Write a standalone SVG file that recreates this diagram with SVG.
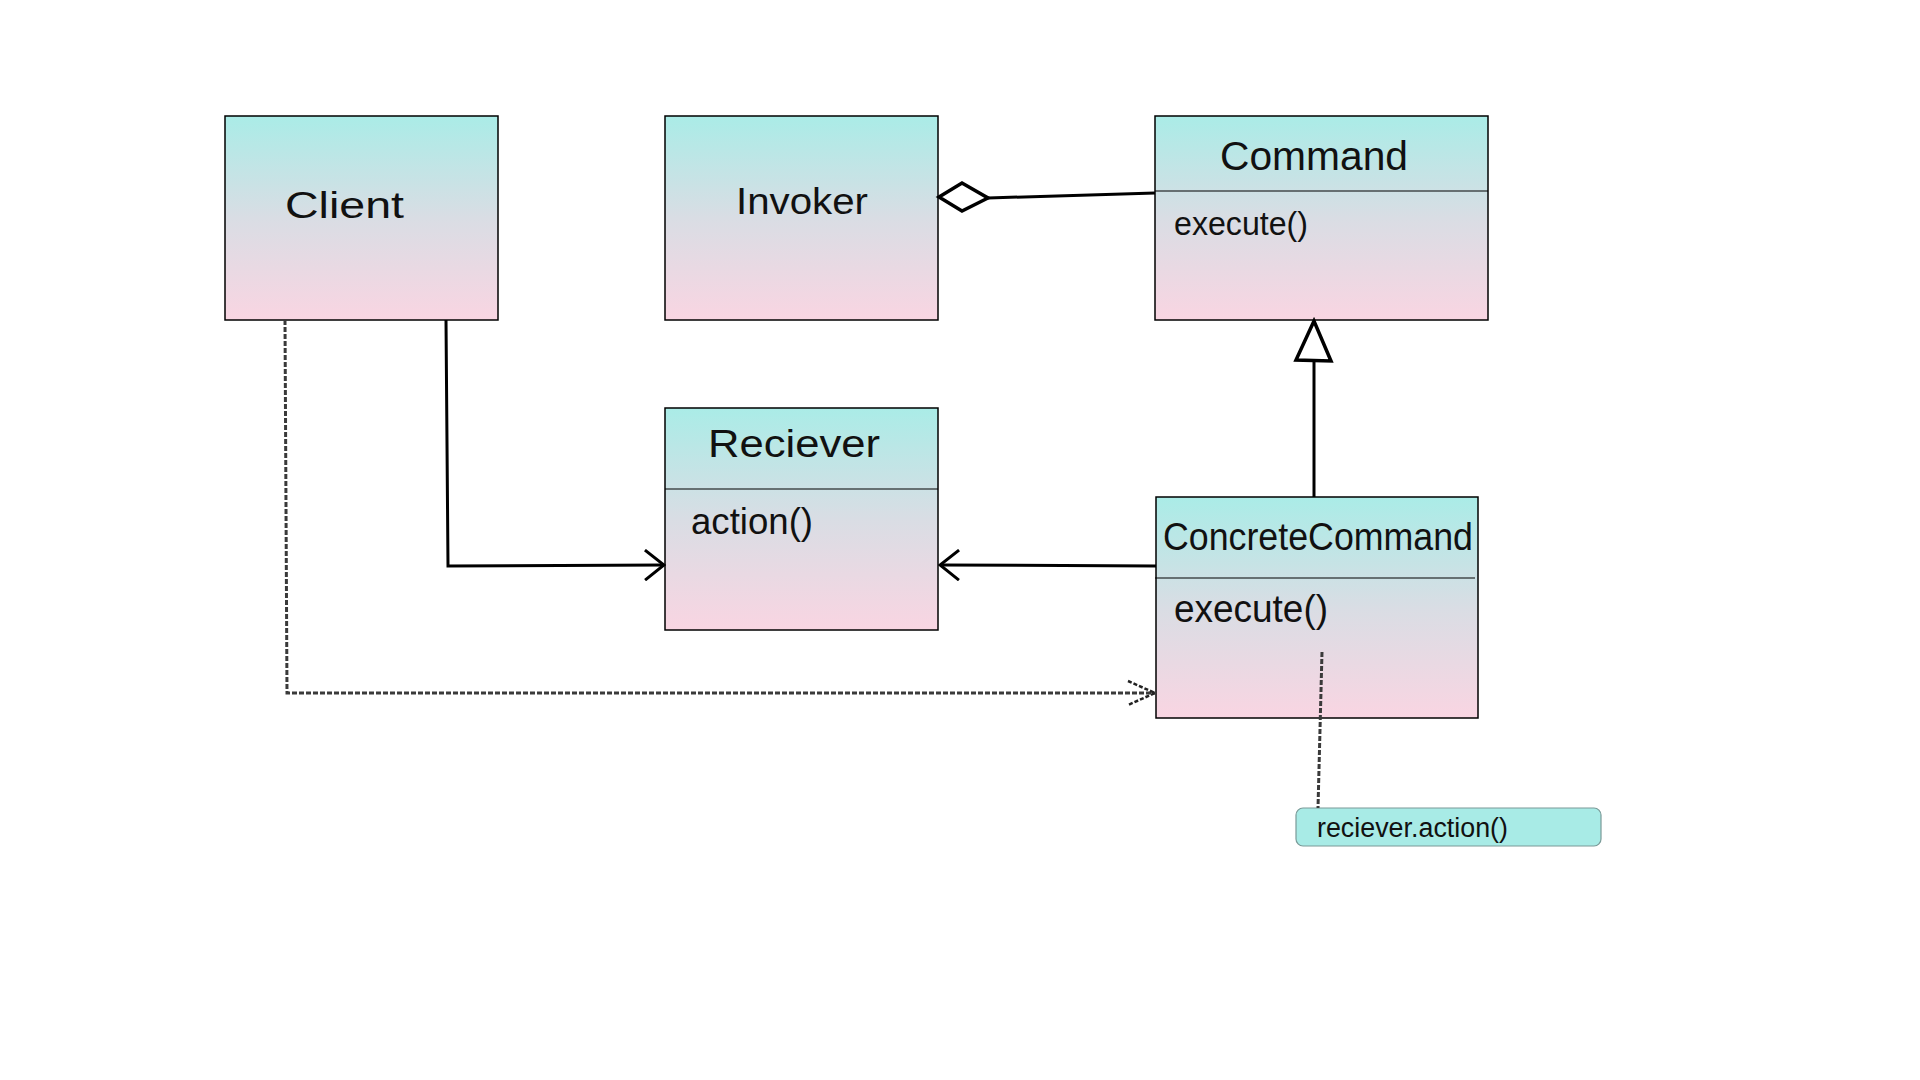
<svg xmlns="http://www.w3.org/2000/svg" width="1920" height="1080" viewBox="0 0 1920 1080">
  <defs>
    <linearGradient id="boxFill" x1="0" y1="0" x2="0" y2="1">
      <stop offset="0" stop-color="#aaece7"/>
      <stop offset="0.5" stop-color="#d9dde4"/>
      <stop offset="1" stop-color="#f9d5e2"/>
    </linearGradient>
    <marker id="openArrow" viewBox="0 0 22 32" refX="20" refY="16" markerWidth="22" markerHeight="32" markerUnits="userSpaceOnUse" orient="auto">
      <path d="M1,1 L20,16 L1,31" fill="none" stroke="#000" stroke-width="3"/>
    </marker>
    <marker id="dashArrow" viewBox="0 0 30 28" refX="28" refY="14" markerWidth="30" markerHeight="28" markerUnits="userSpaceOnUse" orient="auto">
      <path d="M1,2 L28,14 L1,26" fill="none" stroke="#222" stroke-width="2.5" stroke-dasharray="4 2"/>
    </marker>
  </defs>
  <style>
    .box { fill: url(#boxFill); stroke: #000; stroke-width: 1.5; }
    .sep { stroke: #000; stroke-width: 1.2; }
    .txt { font-family: "Liberation Sans", "DejaVu Sans", sans-serif; fill: #111; }
    .link { fill: none; stroke: #000; stroke-width: 3; }
    .dash { fill: none; stroke: #3a3a3a; stroke-width: 3; stroke-dasharray: 5 2; }
    .note { fill: #a8ebe6; stroke: #7a9a98; stroke-width: 1.2; }
  </style>

  <rect width="1920" height="1080" fill="#fff"/>

  <g id="client">
    <rect class="box" x="225" y="116" width="273" height="204"/>
    <text class="txt" x="285" y="218" font-size="36" textLength="119" lengthAdjust="spacingAndGlyphs">Client</text>
  </g>

  <g id="invoker">
    <rect class="box" x="665" y="116" width="273" height="204"/>
    <text class="txt" x="736" y="214" font-size="36" textLength="132" lengthAdjust="spacingAndGlyphs">Invoker</text>
  </g>

  <g id="command">
    <rect class="box" x="1155" y="116" width="333" height="204"/>
    <line class="sep" x1="1155" y1="191" x2="1488" y2="191"/>
    <text class="txt" x="1220" y="170" font-size="40" textLength="188" lengthAdjust="spacingAndGlyphs">Command</text>
    <text class="txt" x="1174" y="235" font-size="34" textLength="134" lengthAdjust="spacingAndGlyphs">execute()</text>
  </g>

  <g id="reciever">
    <rect class="box" x="665" y="408" width="273" height="222"/>
    <line class="sep" x1="665" y1="489" x2="938" y2="489"/>
    <text class="txt" x="708" y="457" font-size="38" textLength="172" lengthAdjust="spacingAndGlyphs">Reciever</text>
    <text class="txt" x="691" y="534" font-size="36" textLength="122" lengthAdjust="spacingAndGlyphs">action()</text>
  </g>

  <g id="concrete-command">
    <rect class="box" x="1156" y="497" width="322" height="221"/>
    <line class="sep" x1="1155" y1="578" x2="1475" y2="578"/>
    <text class="txt" x="1163" y="550" font-size="38" textLength="310" lengthAdjust="spacingAndGlyphs">ConcreteCommand</text>
    <text class="txt" x="1174" y="622" font-size="38" textLength="154" lengthAdjust="spacingAndGlyphs">execute()</text>
  </g>

  <g id="note">
    <rect class="note" x="1296" y="808" width="305" height="38" rx="7"/>
    <text class="txt" x="1317" y="837" font-size="27" textLength="191" lengthAdjust="spacingAndGlyphs">reciever.action()</text>
  </g>

  <g id="connectors">
    <!-- Invoker aggregates Command -->
    <path class="link" d="M988,198 L1155,193"/>
    <path d="M939,197 L962,183 L988,198 L962,211 Z" fill="#fff" stroke="#000" stroke-width="3.5" stroke-linejoin="miter"/>

    <!-- ConcreteCommand realizes Command -->
    <path class="link" d="M1314,497 L1314,361"/>
    <path d="M1314,321 L1296,360 L1331,361 Z" fill="#fff" stroke="#000" stroke-width="3.5"/>

    <!-- Client to Reciever -->
    <path class="link" d="M446,320 L448,566 L664,565" marker-end="url(#openArrow)"/>

    <!-- ConcreteCommand to Reciever -->
    <path class="link" d="M1156,566 L940,565" marker-end="url(#openArrow)"/>

    <!-- Client creates ConcreteCommand -->
    <path class="dash" d="M285,320 L287,693 L1155,693" marker-end="url(#dashArrow)"/>

    <!-- note anchor -->
    <path class="dash" d="M1322,652 L1318,808"/>
  </g>
</svg>
